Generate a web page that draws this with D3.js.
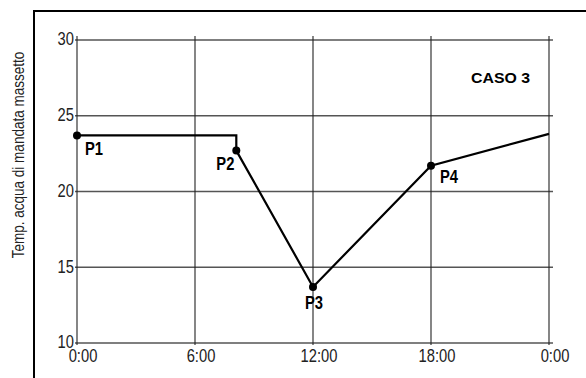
<!DOCTYPE html>
<html><head><meta charset="utf-8">
<script src="https://cdn.jsdelivr.net/npm/d3@7"></script>
<style>
body{margin:0;background:#fff;}
svg{display:block;}
text{font-family:"Liberation Sans",Arial,sans-serif;}
</style></head>
<body>
<script>
// Data
const hours = [0, 8.1, 8.1, 12, 18, 24];
const temps = [23.7, 23.7, 22.7, 13.7, 21.7, 23.8];
const pointIdx = [0, 2, 3, 4];
const pointLabels = ["P1", "P2", "P3", "P4"];
const xTickValues = [0, 6, 12, 18, 24];
const xTickLabels = ["0:00", "6:00", "12:00", "18:00", "0:00"];
const yTickValues = [10, 15, 20, 25, 30];
const yTitle = "Temp. acqua di mandata massetto";
const caseLabel = "CASO 3";

const W = 586, H = 378;
const NARROW = 0.82;
const svg = d3.select("body").append("svg").attr("width", W).attr("height", H);

const x = d3.scaleLinear().domain([0, 24]).range([77, 549]);
const y = d3.scaleLinear().domain([10, 30]).range([343, 40]);

// narrow text helper (Arial-Narrow-like by horizontal scaling)
function ntext(g, px, py, str, size, opts = {}) {
  const rot = opts.rotate ? ` rotate(${opts.rotate})` : "";
  return g.append("text")
    .attr("transform", `translate(${px},${py})${rot} scale(${NARROW},1)`)
    .attr("text-anchor", opts.anchor || "start")
    .attr("font-size", size)
    .attr("font-weight", opts.weight || "normal")
    .attr("fill", opts.fill || "#000")
    .attr("dy", opts.dy || null)
    .text(str);
}

// outer frame (top + left)
svg.append("line").attr("x1", 34).attr("x2", W).attr("y1", 11).attr("y2", 11)
  .attr("stroke", "#000").attr("stroke-width", 2);
svg.append("line").attr("x1", 34).attr("x2", 34).attr("y1", 10).attr("y2", H)
  .attr("stroke", "#000").attr("stroke-width", 2);

// horizontal grid
svg.append("g").selectAll("line").data(yTickValues).join("line")
  .attr("x1", x(0) - 2).attr("x2", x(24) + 4)
  .attr("y1", d => y(d)).attr("y2", d => y(d))
  .attr("stroke", "#555").attr("stroke-width", 1.3);

// vertical grid
svg.append("g").selectAll("line").data(xTickValues).join("line")
  .attr("x1", d => x(d)).attr("x2", d => x(d))
  .attr("y1", y(30) - 4).attr("y2", y(10) + 2)
  .attr("stroke", "#222").attr("stroke-width", 1.1);

// y tick labels
const gy = svg.append("g");
yTickValues.forEach(v => ntext(gy, x(0) - 3, y(v) - 1, v, 18, {anchor: "end", fill: "#222", dy: "0.35em"}));

// x tick labels
const gx = svg.append("g");
xTickValues.forEach((v, i) => ntext(gx, x(v) + 6, 362, xTickLabels[i], 18, {anchor: "middle", fill: "#222"}));

// y title
ntext(svg, 24, 155, yTitle, 16.5, {anchor: "middle", fill: "#222", rotate: -90});

// line
const pts = hours.map((h, i) => [h, temps[i]]);
svg.append("path").datum(pts)
  .attr("d", d3.line().x(d => x(d[0])).y(d => y(d[1])))
  .attr("fill", "none").attr("stroke", "#000").attr("stroke-width", 2.2)
  .attr("stroke-linejoin", "miter");

// points
svg.append("g").selectAll("circle").data(pointIdx).join("circle")
  .attr("cx", i => x(hours[i])).attr("cy", i => y(temps[i])).attr("r", 4)
  .attr("fill", "#000");

// point labels
const labelOffsets = [[8, 20], [-20, 19], [-8, 22], [9, 17]];
const gp = svg.append("g");
pointIdx.forEach((i, k) => ntext(gp, x(hours[i]) + labelOffsets[k][0], y(temps[i]) + labelOffsets[k][1],
  pointLabels[k], 18, {weight: "bold"}));

// case label
svg.append("text").attr("x", 471).attr("y", 83)
  .attr("font-size", 15.5).attr("font-weight", "bold").attr("fill", "#000")
  .attr("textLength", 59).attr("lengthAdjust", "spacingAndGlyphs")
  .text(caseLabel);
</script>
</body></html>
